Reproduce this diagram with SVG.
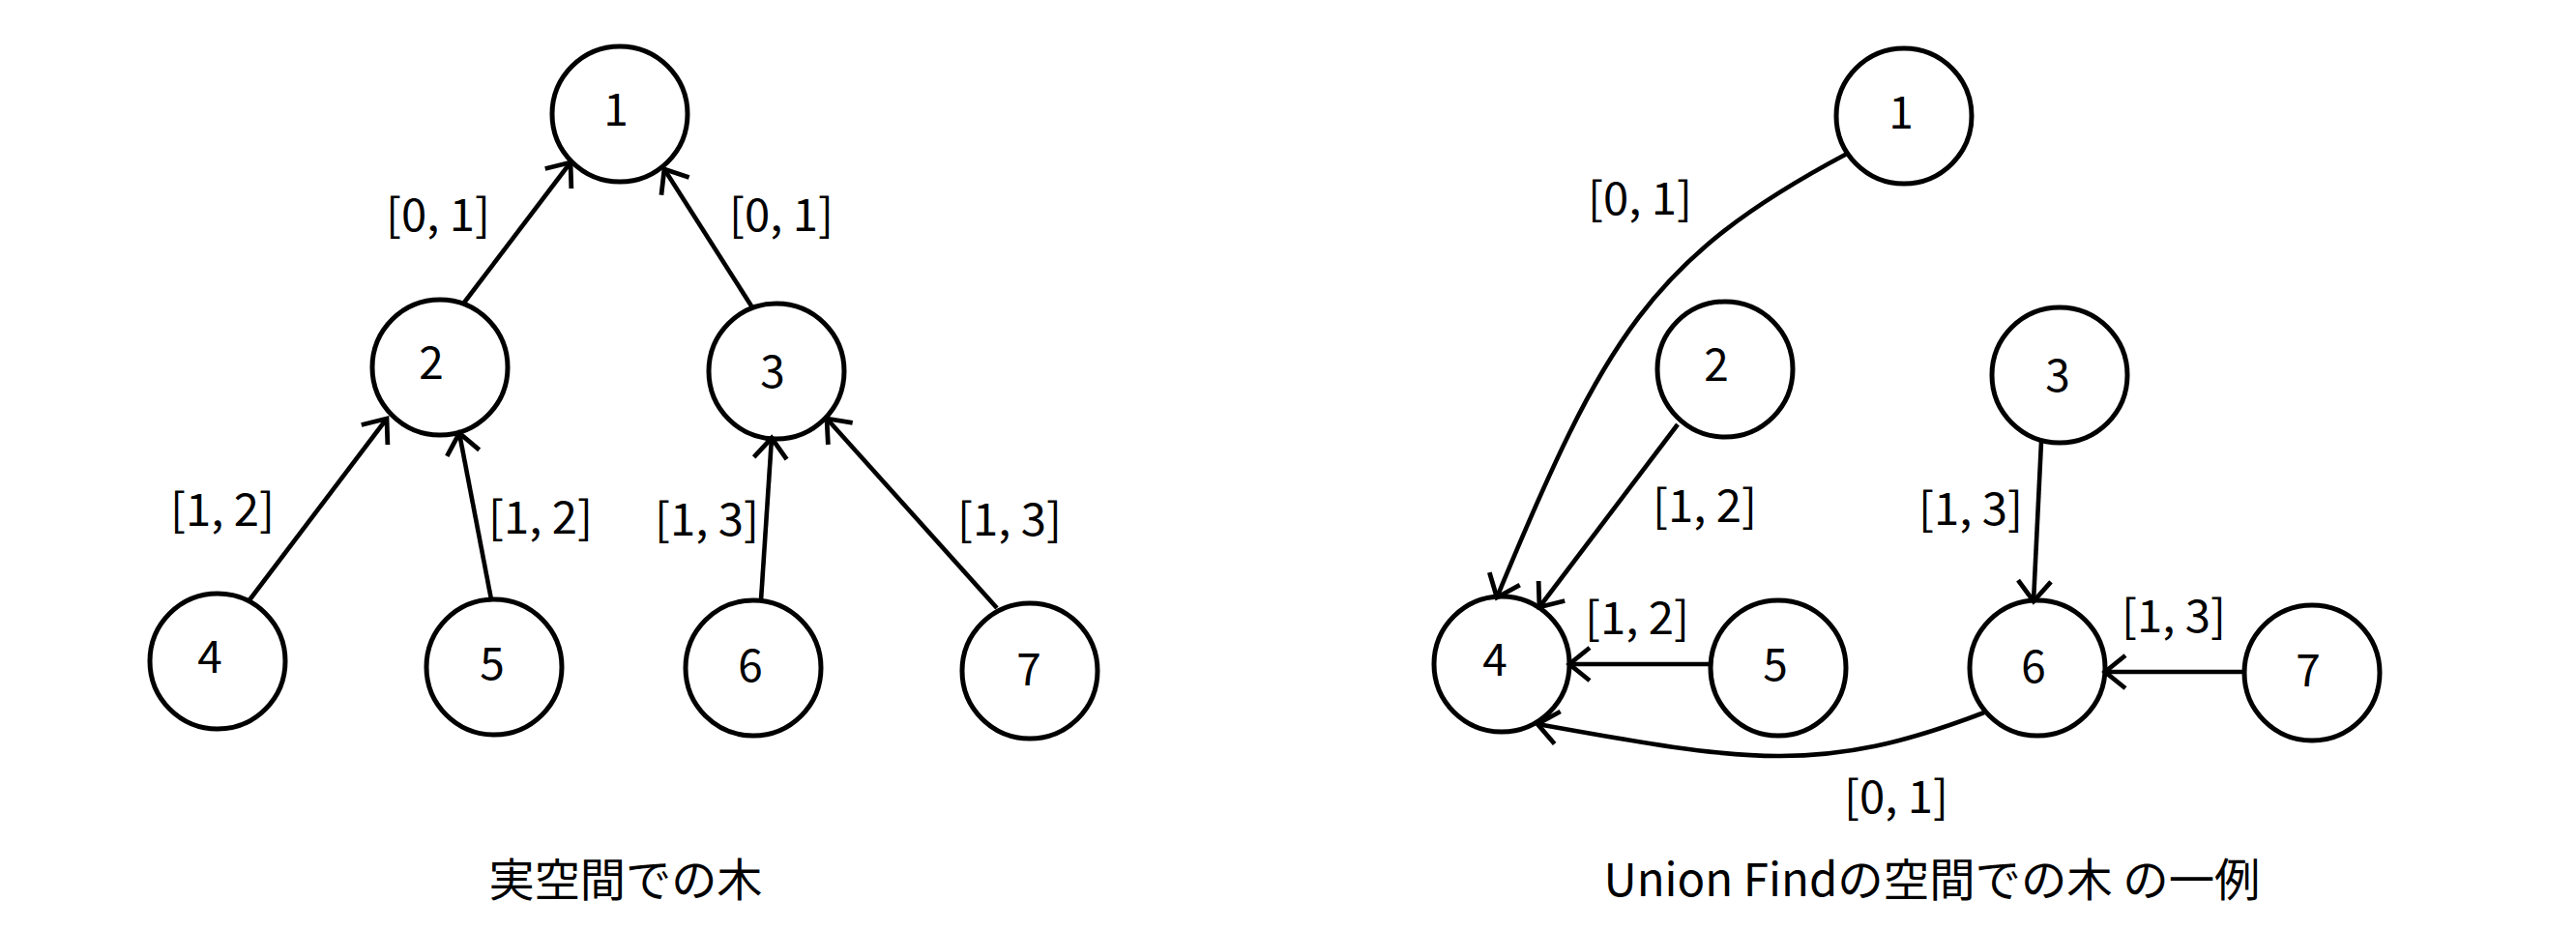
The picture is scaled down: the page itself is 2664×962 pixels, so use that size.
<svg xmlns="http://www.w3.org/2000/svg" width="2664" height="962" viewBox="0 0 2664 962">
<style>
.node circle{fill:#fff;stroke:#000;stroke-width:5}
.node text{font-family:"Noto Sans CJK JP","Noto Sans",sans-serif;font-size:46px;fill:#000;text-anchor:middle}
.edge{fill:none;stroke:#000;stroke-width:4.6;marker-end:url(#arr)}
.lbl{font-family:"Noto Sans CJK JP","Noto Sans",sans-serif;font-size:46px;fill:#000;text-anchor:middle}
.cap{font-family:"Noto Sans CJK JP","Noto Sans",sans-serif;font-size:47px;fill:#000;text-anchor:middle}
</style>
<defs>
<marker id="arr" markerUnits="userSpaceOnUse" viewBox="-30 -25 35 50" refX="0" refY="0" markerWidth="35" markerHeight="50" orient="auto">
<path d="M-21,-17 L0,0 L-21,17" fill="none" stroke="#000" stroke-width="4.8"/>
</marker>
</defs>
<rect width="2664" height="962" fill="#fff"/>

<g id="left-tree">
<g id="L1" class="node"><circle cx="641" cy="118" r="70"/><text x="637" y="130">1</text></g>
<g id="L2" class="node"><circle cx="455" cy="380" r="70"/><text x="446" y="392">2</text></g>
<g id="L3" class="node"><circle cx="803" cy="384" r="70"/><text x="799" y="401">3</text></g>
<g id="L4" class="node"><circle cx="225" cy="684" r="70"/><text x="217" y="696">4</text></g>
<g id="L5" class="node"><circle cx="511" cy="690" r="70"/><text x="509" y="703">5</text></g>
<g id="L6" class="node"><circle cx="779" cy="691" r="70"/><text x="776" y="705">6</text></g>
<g id="L7" class="node"><circle cx="1065" cy="694" r="70"/><text x="1064" y="709">7</text></g>
</g>

<g id="right-tree">
<g id="R1" class="node"><circle cx="1969" cy="120" r="70"/><text x="1966" y="133">1</text></g>
<g id="R2" class="node"><circle cx="1784" cy="382" r="70"/><text x="1775" y="394">2</text></g>
<g id="R3" class="node"><circle cx="2130" cy="388" r="70"/><text x="2128" y="405">3</text></g>
<g id="R4" class="node"><circle cx="1553" cy="687" r="70"/><text x="1546" y="699">4</text></g>
<g id="R5" class="node"><circle cx="1839" cy="691" r="70"/><text x="1836" y="704">5</text></g>
<g id="R6" class="node"><circle cx="2107" cy="691" r="70"/><text x="2103" y="706">6</text></g>
<g id="R7" class="node"><circle cx="2391" cy="696" r="70"/><text x="2387" y="710">7</text></g>
</g>

<g id="connectors">
<path class="edge" d="M480,313 L590,168"/>
<path class="edge" d="M778,318 L687,175"/>
<path class="edge" d="M257,622 L400,433"/>
<path class="edge" d="M508,620 L475,448"/>
<path class="edge" d="M787,621 L798,453"/>
<path class="edge" d="M1031,629 L855,433"/>
<path class="edge" d="M1910,159 C1707,267 1659,350 1548,618"/>
<path class="edge" d="M1735,439 L1592,628"/>
<path class="edge" d="M1769,687 L1623,687"/>
<path class="edge" d="M2111,457 L2103,622"/>
<path class="edge" d="M2321,695 L2177,695"/>
<path class="edge" d="M2052,737 C1884,802 1806,788 1590,749"/>
</g>

<g id="edge-labels">
<text class="lbl" x="453" y="239" textLength="108" lengthAdjust="spacingAndGlyphs">[0, 1]</text>
<text class="lbl" x="808" y="239" textLength="108" lengthAdjust="spacingAndGlyphs">[0, 1]</text>
<text class="lbl" x="230" y="544" textLength="108" lengthAdjust="spacingAndGlyphs">[1, 2]</text>
<text class="lbl" x="559" y="552" textLength="108" lengthAdjust="spacingAndGlyphs">[1, 2]</text>
<text class="lbl" x="731" y="554" textLength="108" lengthAdjust="spacingAndGlyphs">[1, 3]</text>
<text class="lbl" x="1044" y="554" textLength="108" lengthAdjust="spacingAndGlyphs">[1, 3]</text>
<text class="lbl" x="1696" y="222" textLength="108" lengthAdjust="spacingAndGlyphs">[0, 1]</text>
<text class="lbl" x="1763" y="540" textLength="108" lengthAdjust="spacingAndGlyphs">[1, 2]</text>
<text class="lbl" x="2038" y="543" textLength="108" lengthAdjust="spacingAndGlyphs">[1, 3]</text>
<text class="lbl" x="1693" y="656" textLength="108" lengthAdjust="spacingAndGlyphs">[1, 2]</text>
<text class="lbl" x="2248" y="654" textLength="108" lengthAdjust="spacingAndGlyphs">[1, 3]</text>
<text class="lbl" x="1961" y="841" textLength="108" lengthAdjust="spacingAndGlyphs">[0, 1]</text>
</g>

<g id="captions">
<text class="cap" x="647" y="927" textLength="283" lengthAdjust="spacingAndGlyphs">実空間での木</text>
<text class="cap" x="1998" y="927" textLength="679" lengthAdjust="spacingAndGlyphs">Union Findの空間での木 の一例</text>
</g>
</svg>
